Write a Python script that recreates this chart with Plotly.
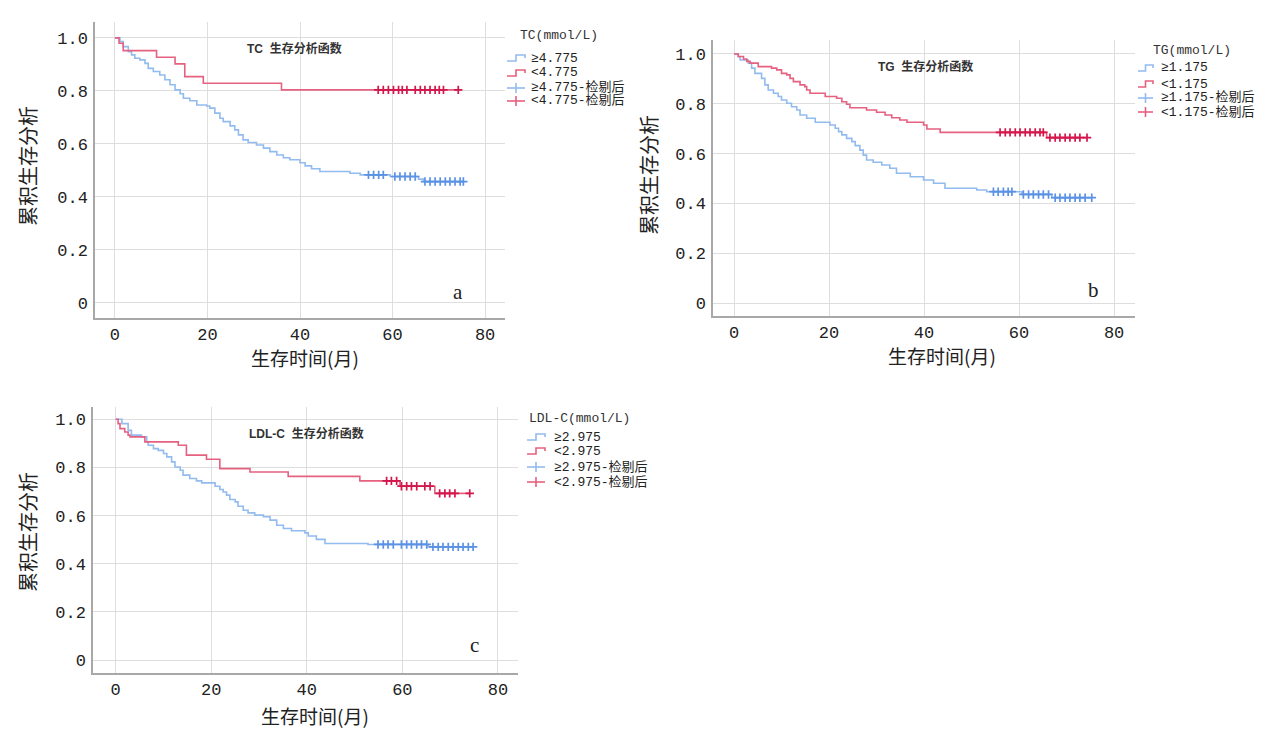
import plotly.graph_objects as go

# ---------------- data ----------------
# Panel a : TC
tc_hi_t = [0, 1.1, 1.8, 2.9, 3.6, 4.3, 5.4, 6.5, 7.2, 8.3, 9.7, 10.8, 11.9, 13.0, 14.1, 14.8, 16.2, 17.7, 19.8, 20.5,
           21.6, 22.7, 23.4, 24.9, 25.9, 26.7, 27.7, 28.8, 30.6, 32.1, 33.5, 35.0, 36.4, 37.8, 40.0, 41.1, 42.5, 44.3,
           50.8, 53.0, 59.5, 65.6, 66.7]
tc_hi_s = [1.0, 0.986, 0.967, 0.948, 0.936, 0.923, 0.917, 0.904, 0.885, 0.873, 0.860, 0.842, 0.823, 0.804, 0.789,
           0.772, 0.763, 0.747, 0.743, 0.735, 0.716, 0.697, 0.684, 0.668, 0.653, 0.634, 0.615, 0.605, 0.596, 0.584,
           0.571, 0.558, 0.548, 0.540, 0.529, 0.517, 0.506, 0.496, 0.489, 0.483, 0.477, 0.467, 0.458]
tc_hi_cens = [54.8, 55.9, 57.0, 58.0, 60.5, 61.6, 62.7, 63.8, 64.9, 67.0, 68.1, 69.2, 70.3, 71.4, 72.4, 73.5, 74.6, 75.3]
tc_lo_t = [0, 0.9, 1.8, 9.0, 13.0, 15.1, 19.1, 36.0]
tc_lo_s = [1.0, 0.98, 0.952, 0.927, 0.902, 0.854, 0.829, 0.804]
tc_lo_cens = [56.9, 58.0, 59.1, 60.2, 61.3, 62.1, 63.1, 64.9, 66.0, 67.0, 68.1, 69.2, 70.1, 71.0, 74.2]

# Panel b : TG
tg_hi_t = [0, 0.9, 1.3, 3.0, 3.7, 4.4, 5.8, 6.5, 7.2, 8.3, 9.3, 10.0, 11.1, 12.1, 13.2, 13.9, 15.3, 17.1, 20.2, 21.3,
           22.0, 22.7, 23.7, 24.8, 25.5, 26.5, 27.2, 27.9, 29.3, 31.1, 32.8, 34.2, 37.1, 39.9, 42.0, 44.4, 51.1, 53.2,
           60.6, 66.9]
tg_hi_s = [1.0, 0.989, 0.976, 0.963, 0.943, 0.922, 0.902, 0.876, 0.855, 0.842, 0.829, 0.815, 0.802, 0.788, 0.775,
           0.755, 0.742, 0.726, 0.715, 0.702, 0.688, 0.675, 0.661, 0.648, 0.632, 0.614, 0.594, 0.574, 0.565, 0.554,
           0.541, 0.521, 0.507, 0.494, 0.481, 0.461, 0.454, 0.447, 0.436, 0.423]
tg_hi_cens = [54.6, 55.6, 56.7, 57.7, 58.5, 60.9, 62.0, 63.0, 64.1, 65.1, 66.2, 67.6, 68.6, 69.7, 70.7, 71.8, 72.8,
              73.9, 75.3]
tg_lo_t = [0, 0.9, 2.0, 2.7, 3.4, 5.1, 7.9, 9.0, 10.0, 11.1, 11.8, 12.5, 13.9, 14.9, 15.3, 16.0, 19.2, 21.6, 22.7,
           23.7, 24.4, 27.9, 30.0, 31.8, 33.2, 34.9, 36.4, 39.9, 40.6, 43.4, 65.8]
tg_lo_s = [1.0, 0.99, 0.98, 0.97, 0.963, 0.949, 0.943, 0.936, 0.922, 0.916, 0.902, 0.889, 0.876, 0.869, 0.855, 0.842,
           0.829, 0.822, 0.808, 0.798, 0.784, 0.775, 0.766, 0.755, 0.744, 0.735, 0.726, 0.715, 0.699, 0.685, 0.664]
tg_lo_cens = [56.0, 57.1, 58.1, 59.2, 60.2, 61.3, 62.3, 63.4, 64.4, 65.1, 66.5, 67.6, 68.6, 69.7, 70.7, 71.8, 72.8, 74.3]

# Panel c : LDL-C
ldl_hi_t = [0, 1.3, 2.6, 3.3, 5.4, 6.5, 6.8, 7.9, 8.9, 10.0, 10.7, 11.7, 12.4, 13.5, 14.1, 15.5, 16.9, 18.0, 20.8,
            21.8, 22.5, 23.2, 23.9, 25.0, 25.6, 26.7, 27.7, 29.1, 30.9, 32.3, 33.7, 35.1, 36.8, 39.6, 40.3, 42.0,
            43.8, 52.8, 65.4]
ldl_hi_s = [1.0, 0.982, 0.954, 0.934, 0.927, 0.906, 0.892, 0.878, 0.871, 0.858, 0.844, 0.823, 0.802, 0.788, 0.768,
            0.754, 0.744, 0.736, 0.722, 0.708, 0.698, 0.685, 0.667, 0.657, 0.639, 0.622, 0.611, 0.602, 0.595, 0.581,
            0.560, 0.546, 0.537, 0.528, 0.515, 0.501, 0.484, 0.480, 0.470]
ldl_hi_cens = [54.9, 56.0, 57.0, 58.1, 59.8, 60.9, 61.9, 63.0, 64.0, 65.1, 66.4, 67.5, 68.5, 69.6, 70.6, 71.7, 72.7,
               73.8, 74.8]
ldl_lo_t = [0, 0.5, 0.9, 1.9, 2.6, 3.0, 6.1, 13.1, 14.8, 19.0, 21.8, 28.1, 36.1, 51.1, 59.5, 66.8]
ldl_lo_s = [1.0, 0.982, 0.961, 0.947, 0.934, 0.927, 0.906, 0.892, 0.851, 0.834, 0.795, 0.781, 0.763, 0.744, 0.722,
            0.692]
ldl_lo_cens = [56.7, 57.7, 58.8, 59.8, 60.9, 61.9, 63.0, 64.7, 65.8, 67.8, 68.9, 69.9, 71.0, 74.1]

x_ticks = [0, 20, 40, 60, 80]
y_ticks = [0, 0.2, 0.4, 0.6, 0.8, 1.0]
y_ticktext = ["0", "0.2", "0.4", "0.6", "0.8", "1.0"]

panel_titles = ["TC  生存分析函数", "TG  生存分析函数", "LDL-C  生存分析函数"]
legend_titles = ["TC(mmol/L)", "TG(mmol/L)", "LDL-C(mmol/L)"]
cut_labels = ["4.775", "1.175", "2.975"]
panel_letters = ["a", "b", "c"]
y_title = "累积生存分析"
x_title = "生存时间(月)"

# ---------------- styling / layout ----------------
W, H = 1269, 729
BLUE_LINE = "#92bbef"
BLUE_MARK = "#5b92e3"
RED_LINE = "#e6607f"
RED_MARK = "#d3164b"
GRID = "#dedede"
AXIS = "#a8a8a8"
MONO = "Liberation Mono, Noto Sans CJK SC"
CJK = "Noto Sans CJK SC"

# pixel geometry of each panel
panels = [
    dict(left=95, right=505, top=22, bottom=318, xr=[-4.3, 84.3], yr=[-0.057, 1.060],
         title=(294, 49), ytitle=(27, 166), xtitle=(305, 357), letter=(458, 292),
         leg_title=(518, 35), leg_sym=(507, 525), leg_text=529, leg_y=[58, 73, 88, 101]),
    dict(left=713, right=1135, top=40, bottom=316, xr=[-4.42, 84.4], yr=[-0.052, 1.056],
         title=(925, 67), ytitle=(648, 175), xtitle=(942, 356), letter=(1093, 290),
         leg_title=(1151, 50), leg_sym=(1138, 1153), leg_text=1159, leg_y=[68, 84, 98, 112]),
    dict(left=93, right=518, top=407, bottom=673, xr=[-4.75, 84.2], yr=[-0.054, 1.051],
         title=(306, 433), ytitle=(27, 532), xtitle=(315, 715), letter=(474, 645),
         leg_title=(527, 418), leg_sym=(527, 545), leg_text=552, leg_y=[437, 451, 467, 482]),
]

series = [
    (tc_hi_t, tc_hi_s, tc_hi_cens, tc_lo_t, tc_lo_s, tc_lo_cens),
    (tg_hi_t, tg_hi_s, tg_hi_cens, tg_lo_t, tg_lo_s, tg_lo_cens),
    (ldl_hi_t, ldl_hi_s, ldl_hi_cens, ldl_lo_t, ldl_lo_s, ldl_lo_cens),
]


def surv_at(ts, ss, t):
    val = ss[0]
    for ti, si in zip(ts, ss):
        if ti <= t:
            val = si
    return val


def px(x):
    return x / W


def py(y):
    return 1 - y / H


fig = go.Figure()
annotations = []
shapes = []

for i, (p, data) in enumerate(zip(panels, series)):
    hi_t, hi_s, hi_c, lo_t, lo_s, lo_c = data
    xa = "x" if i == 0 else f"x{i + 1}"
    ya = "y" if i == 0 else f"y{i + 1}"
    for ts, ss, cens, lc, mc in [(hi_t, hi_s, hi_c, BLUE_LINE, BLUE_MARK), (lo_t, lo_s, lo_c, RED_LINE, RED_MARK)]:
        end = max(cens)
        fig.add_trace(go.Scatter(x=ts + [end], y=ss + [ss[-1]], mode="lines", line=dict(color=lc, width=1.6, shape="hv"),
                                 xaxis=xa, yaxis=ya, showlegend=False, hoverinfo="skip"))
        fig.add_trace(go.Scatter(x=cens, y=[surv_at(ts, ss, c) for c in cens], mode="markers",
                                 marker=dict(symbol="cross-thin", size=6, line=dict(color=mc, width=1.7)),
                                 xaxis=xa, yaxis=ya, showlegend=False, hoverinfo="skip"))

    axis_common = dict(showgrid=True, gridcolor=GRID, gridwidth=1, zeroline=False, showline=True,
                       linecolor=AXIS, linewidth=1.5, ticks="", fixedrange=True,
                       tickfont=dict(family=MONO, size=17, color="#222222"))
    suffix = "" if i == 0 else str(i + 1)
    fig.update_layout(**{
        "xaxis" + suffix: dict(axis_common, domain=[px(p["left"]), px(p["right"])], range=p["xr"],
                               tickvals=x_ticks, anchor="y" + suffix if i else "y", ticklabelstandoff=0),
        "yaxis" + suffix: dict(axis_common, domain=[py(p["bottom"]), py(p["top"])], range=p["yr"],
                               tickvals=y_ticks, ticktext=y_ticktext, anchor="x" + suffix if i else "x",
                               ticklabelstandoff=2),
    })

    # panel title
    annotations.append(dict(x=px(p["title"][0]), y=py(p["title"][1]), xref="paper", yref="paper",
                            text="<b>" + panel_titles[i] + "</b>", showarrow=False,
                            font=dict(family="Liberation Sans, Noto Sans CJK SC", size=12, color="#333333"),
                            xanchor="center", yanchor="middle"))
    # axis titles
    annotations.append(dict(x=px(p["ytitle"][0]), y=py(p["ytitle"][1]), xref="paper", yref="paper", text=y_title,
                            textangle=-90, showarrow=False, font=dict(family=CJK, size=20, color="#222222"),
                            xanchor="center", yanchor="middle"))
    annotations.append(dict(x=px(p["xtitle"][0]), y=py(p["xtitle"][1]), xref="paper", yref="paper", text=x_title,
                            showarrow=False, font=dict(family=CJK, size=19, color="#222222"),
                            xanchor="center", yanchor="middle"))
    # panel letter
    annotations.append(dict(x=px(p["letter"][0]), y=py(p["letter"][1]), xref="paper", yref="paper",
                            text=panel_letters[i], showarrow=False,
                            font=dict(family="Liberation Serif", size=21, color="#222222"),
                            xanchor="center", yanchor="middle"))
    # legend
    annotations.append(dict(x=px(p["leg_title"][0]), y=py(p["leg_title"][1]), xref="paper", yref="paper",
                            text=legend_titles[i], showarrow=False, font=dict(family=MONO, size=13, color="#333333"),
                            xanchor="left", yanchor="middle"))
    labels = ["≥" + cut_labels[i], "<" + cut_labels[i], "≥" + cut_labels[i] + "-检剔后", "<" + cut_labels[i] + "-检剔后"]
    colors = [BLUE_LINE, RED_LINE, BLUE_LINE, RED_LINE]
    x0, x1 = p["leg_sym"]
    for k, (lab, col) in enumerate(zip(labels, colors)):
        yc = p["leg_y"][k]
        annotations.append(dict(x=px(p["leg_text"]), y=py(yc), xref="paper", yref="paper", text=lab,
                                showarrow=False, font=dict(family=MONO, size=13, color="#222222"),
                                xanchor="left", yanchor="middle"))
        if k < 2:
            xm = (x0 + x1) / 2
            path = (f"M {px(x0)},{py(yc + 3)} L {px(xm)},{py(yc + 3)} L {px(xm)},{py(yc - 3)} "
                    f"L {px(x1)},{py(yc - 3)} L {px(x1)},{py(yc)}")
            shapes.append(dict(type="path", xref="paper", yref="paper", path=path,
                               line=dict(color=col, width=1.6)))
        else:
            xm = (x0 + x1) / 2
            shapes.append(dict(type="line", xref="paper", yref="paper", x0=px(x0), x1=px(x1), y0=py(yc), y1=py(yc),
                               line=dict(color=col, width=1.6)))
            shapes.append(dict(type="line", xref="paper", yref="paper", x0=px(xm), x1=px(xm), y0=py(yc - 5),
                               y1=py(yc + 5), line=dict(color=col, width=1.6)))

fig.update_layout(width=W, height=H, autosize=False, margin=dict(l=0, r=0, t=0, b=0),
                  paper_bgcolor="white", plot_bgcolor="white", showlegend=False,
                  annotations=annotations, shapes=shapes)

fig.write_html("out.html", config={"displayModeBar": False},
               post_script="document.body.style.margin='0';document.body.style.overflow='hidden';")
